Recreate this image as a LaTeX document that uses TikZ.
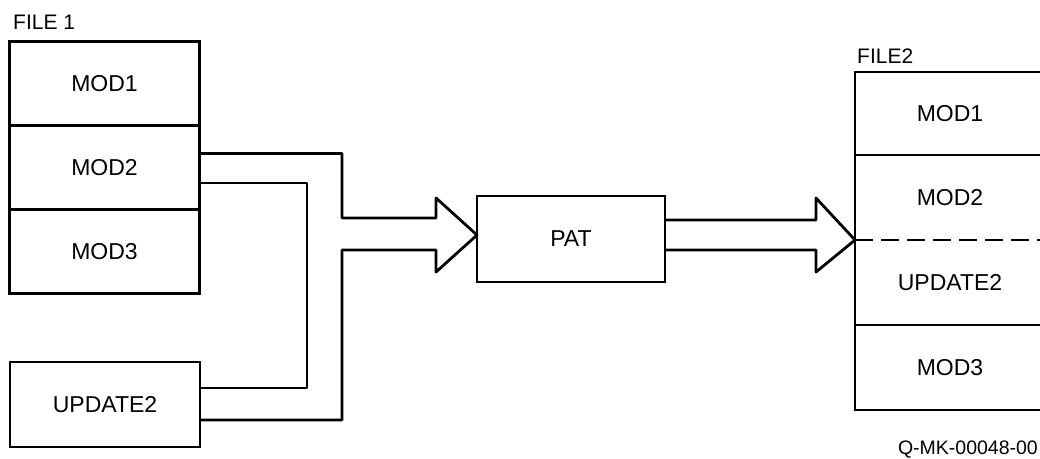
\documentclass[tikz,border=0pt]{standalone}
\usepackage{fontspec}
\setmainfont{Liberation Sans}
\usetikzlibrary{positioning}

\begin{document}
\begin{tikzpicture}[
    x=1pt, y=-1pt,
    node distance=0pt,
    box/.style={rectangle, draw, line width=2.8pt, outer sep=0pt, minimum width=190pt, minimum height=84pt, align=center, font=\fontsize{23}{27}\selectfont},
    cell/.style={box, draw=none},
    pipe/.style={line width=2.8pt, line join=round},
    lbl/.style={anchor=base west, inner sep=0pt, font=\fontsize{21}{25}\selectfont}
]
\useasboundingbox (0,0) rectangle (1040,458);

% file 1
\node[box] (m1) at (104.5,83.5) {MOD1};
\node[box, below=of m1] (m2) {MOD2};
\node[box, below=of m2] (m3) {MOD3};
\node[lbl] (f1) at (13,29) {FILE 1};

\node[box, minimum height=85pt] (upd) at (105,404.5) {UPDATE2};
\node[box, minimum width=188pt, minimum height=86pt] (pat) at (571,239) {PAT};

% file 2
\node[box, minimum height=83pt] (n1) at (950,113.5) {MOD1};
\node[cell, minimum height=85pt, below=of n1] (n2) {MOD2};
\node[cell, minimum height=85pt, below=of n2] (n3) {UPDATE2};
\node[box, minimum height=85pt, below=of n3] (n4) {MOD3};
\draw[pipe] (n2.north west) -- (n3.south west);
\draw[pipe, dash pattern=on 18pt off 8pt] (n2.south west) -- (n2.south east);
\node[lbl] (f2) at (857,63) {FILE2};
\node[lbl, anchor=base east, font=\fontsize{19.5}{23}\selectfont] (id) at (1038,454) {Q-MK-00048-00};

% wide arrows
\draw[pipe] ([yshift=14pt]m2.east) -| (342,218) -- (436,218) -- (436,198) -- ([yshift=4pt]pat.west)
  -- (436,272) -- (436,250) -- (342,250) |- ([yshift=-15.5pt]upd.east);
\draw[pipe] ([yshift=-15.5pt]m2.east) -| (307,388) -- ([yshift=16.5pt]upd.east);
\draw[pipe] ([yshift=19pt]pat.east) -- (816,220) -- (816,198) -- (n2.south west)
  -- (816,272) -- (816,250) -- ([yshift=-11pt]pat.east);
\end{tikzpicture}
\end{document}
